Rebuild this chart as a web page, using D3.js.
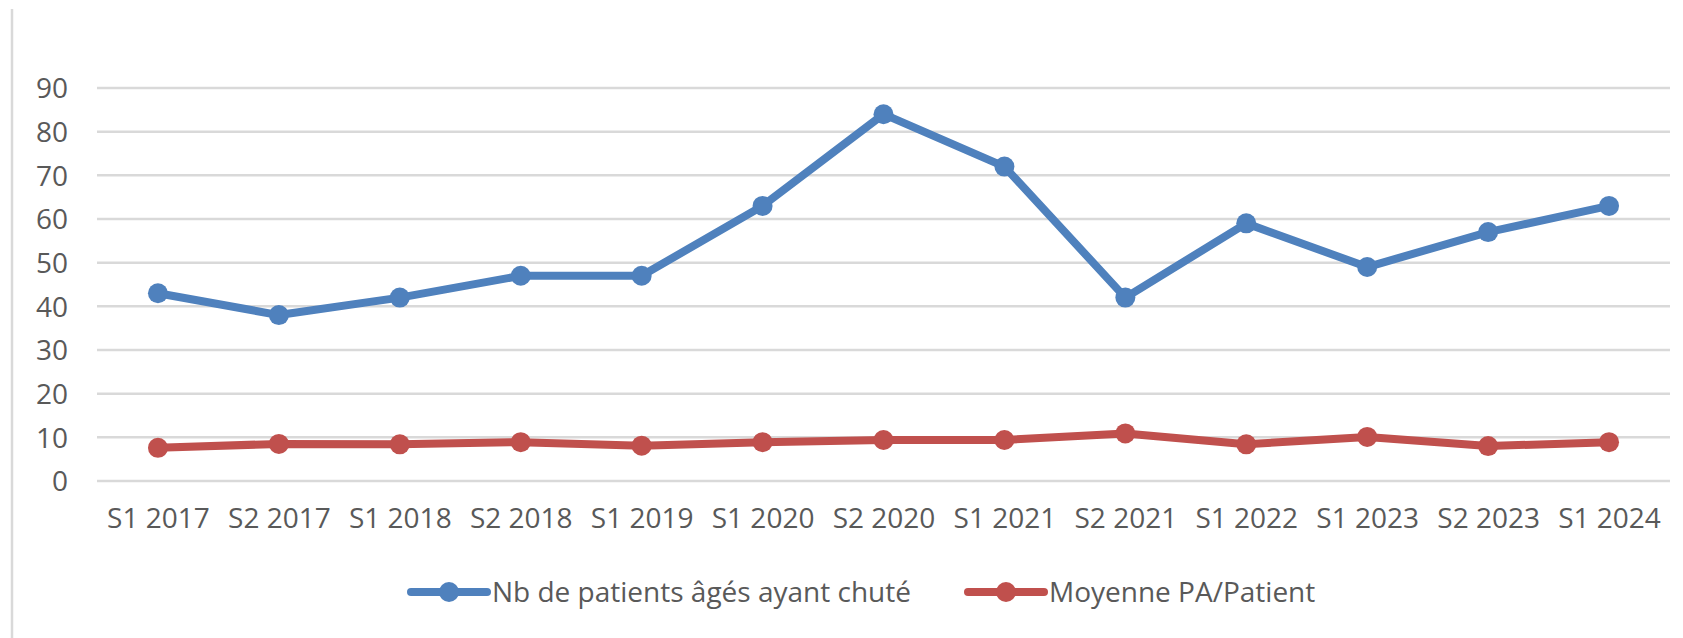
<!DOCTYPE html>
<html>
<head>
<meta charset="utf-8">
<script src="https://cdn.jsdelivr.net/npm/d3@7"></script>
<style>
  body { margin: 0; background: #fff; }
  text { font-family: "Open Sans", sans-serif; fill: #595959; }
</style>
</head>
<body>
<svg id="chart" width="1683" height="638"></svg>
<script>
// data
var periods = ["S1 2017", "S2 2017", "S1 2018", "S2 2018", "S1 2019", "S1 2020", "S2 2020",
               "S1 2021", "S2 2021", "S1 2022", "S1 2023", "S2 2023", "S1 2024"];
var patients = [43, 38, 42, 47, 47, 63, 84, 72, 42, 59, 49, 57, 63];
var moyennePA = [7.6, 8.5, 8.4, 8.9, 8.1, 8.9, 9.4, 9.4, 10.9, 8.4, 10.1, 8.0, 8.9];
var yTicks = [0, 10, 20, 30, 40, 50, 60, 70, 80, 90];
var seriesNames = ["Nb de patients âgés ayant chuté", "Moyenne PA/Patient"];
var seriesColors = ["#4f81bd", "#c0504d"];

var svg = d3.select("#chart");

// frame edge on the left
svg.append("line")
  .attr("x1", 12).attr("x2", 12).attr("y1", 9).attr("y2", 638)
  .style("stroke", "#d9d9d9").style("stroke-width", 2.5);

var x = d3.scalePoint().domain(periods).range([97.5, 1669.5]).padding(0.5);
var y = d3.scaleLinear().domain([0, 90]).range([481, 88]);

// gridlines
svg.append("g").selectAll("line")
  .data(yTicks)
  .enter().append("line")
  .attr("x1", 97).attr("x2", 1670)
  .attr("y1", d => y(d)).attr("y2", d => y(d))
  .style("stroke", "#d9d9d9").style("stroke-width", 2.5);

// y labels
var yAxis = d3.axisLeft(y).tickValues(yTicks).tickSize(0).tickPadding(0);
var yg = svg.append("g").attr("transform", "translate(68,0)").call(yAxis);
yg.select(".domain").remove();
yg.selectAll("text").style("font-size", "28px").style("fill", "#595959")
  .attr("dy", "0.35em").style("font-family", "'Open Sans', sans-serif");

// x labels
var xAxis = d3.axisBottom(x).tickSize(0).tickPadding(0);
var xg = svg.append("g").attr("transform", "translate(0,508)").call(xAxis);
xg.select(".domain").remove();
xg.selectAll("text").style("font-size", "28px").style("fill", "#595959")
  .attr("dy", "0.71em").style("font-family", "'Open Sans', sans-serif");

var line = d3.line().x((d, i) => x(periods[i])).y(d => y(d));

[patients, moyennePA].forEach(function(vals, k) {
  var g = svg.append("g");
  g.append("path").datum(vals)
    .attr("d", line)
    .style("fill", "none")
    .style("stroke", seriesColors[k])
    .style("stroke-width", 8)
    .style("stroke-linejoin", "round");
  g.selectAll("circle").data(vals).enter().append("circle")
    .attr("cx", (d, i) => x(periods[i]))
    .attr("cy", d => y(d))
    .attr("r", 10)
    .style("fill", seriesColors[k]);
});

// legend
var legendX = [411, 968];
var legend = svg.append("g").selectAll("g")
  .data(seriesNames)
  .enter().append("g")
  .attr("transform", (d, i) => "translate(" + legendX[i] + ",592)");
legend.append("line")
  .attr("x1", 0).attr("x2", 76).attr("y1", 0).attr("y2", 0)
  .style("stroke", (d, i) => seriesColors[i]).style("stroke-width", 8)
  .style("stroke-linecap", "round");
legend.append("circle")
  .attr("cx", 38).attr("cy", 0).attr("r", 10)
  .style("fill", (d, i) => seriesColors[i]);
legend.append("text")
  .attr("x", 81).attr("y", 0).attr("dy", "0.35em")
  .style("font-size", "28px")
  .text(d => d);
</script>
</body>
</html>
